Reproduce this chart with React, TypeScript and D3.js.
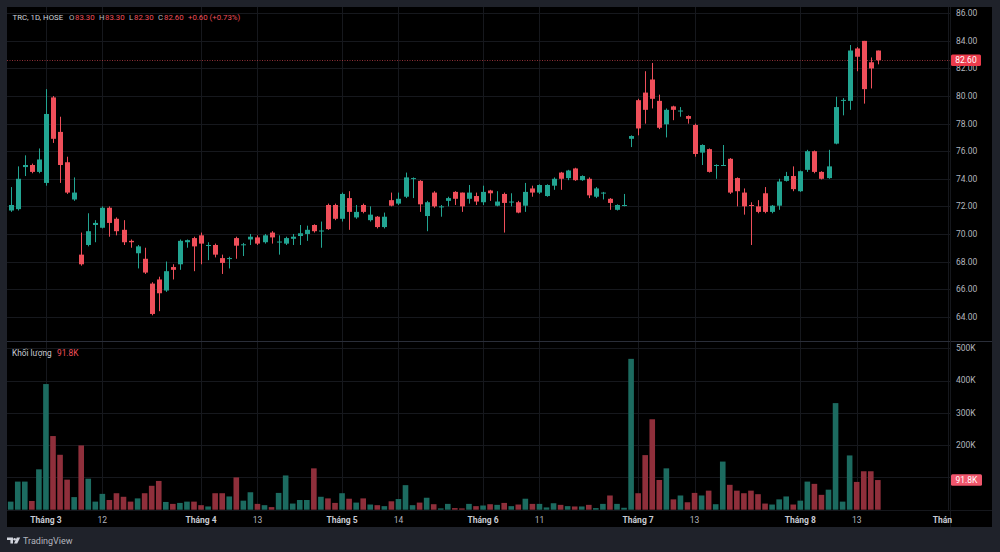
import React from "react";
import * as d3 from "d3";

// ---- data (TRC, 1D, HOSE) ----
const opens = [
  71.7, 71.8, 74.85, 75.0, 74.5, 73.7, 79.9, 77.4, 75.2, 72.5,
  68.5, 69.2, 70.65, 70.45, 71.9, 71.1, 70.3, 69.5, 68.6, 68.2,
  66.4, 66.7, 65.9, 67.6, 67.8, 69.4, 69.7, 69.9, 69.15, 69.2,
  68.25, 68.2, 69.7, 69.2, 69.6, 69.75, 69.4, 70.1, 69.4, 69.3,
  69.65, 69.85, 70.0, 70.65, 70.2, 72.1, 72.1, 71.1, 72.6, 71.2,
  72.1, 71.0, 71.25, 70.5, 72.45, 72.2, 72.7, 74.0, 73.85, 71.3,
  73.0, 71.95, 72.4, 73.05, 73.0, 72.55, 72.75, 72.3, 73.15, 72.05,
  72.9, 72.3, 72.3, 72.05, 73.3, 73.0, 72.75, 73.5, 74.45, 74.05,
  74.75, 73.9, 74.0, 72.7, 72.98, 72.55, 71.75, 72.05, 76.9, 79.7,
  80.25, 81.2, 79.65, 77.95, 79.25, 78.9, 78.55, 77.9, 75.9, 76.15,
  74.98, 74.98, 75.45, 74.05, 73.0, 72.1, 72.0, 72.95, 71.6, 72.05,
  73.85, 74.2, 73.1, 74.65, 76.0, 74.5, 74.05, 76.55, 79.7, 79.65,
  83.45, 84.0, 82.45, 83.3,
];
const highs = [
  73.4, 74.9, 75.7, 75.1, 76.2, 80.5, 80.0, 78.5, 75.6, 74.1,
  70.1, 71.5, 71.0, 72.0, 72.0, 71.2, 71.0, 69.6, 69.2, 69.0,
  66.5, 66.9, 68.0, 67.8, 69.6, 69.6, 69.8, 70.1, 69.4, 69.3,
  68.5, 68.35, 69.8, 69.35, 70.0, 69.9, 70.0, 70.2, 69.9, 69.8,
  70.0, 70.65, 70.6, 70.7, 70.9, 72.2, 72.2, 73.0, 73.1, 72.1,
  72.2, 72.0, 71.3, 71.55, 73.0, 73.0, 74.45, 74.1, 73.9, 72.4,
  73.1, 72.1, 72.7, 73.1, 73.0, 73.55, 73.0, 73.5, 73.2, 73.1,
  73.0, 72.95, 72.4, 73.7, 73.5, 73.6, 73.6, 74.1, 74.5, 74.65,
  74.8, 74.25, 74.1, 73.4, 73.05, 72.6, 72.15, 72.9, 77.15, 79.8,
  81.8, 82.4, 80.1, 79.1, 79.3, 79.2, 78.6, 78.0, 76.5, 76.2,
  75.05, 76.45, 75.5, 74.1, 73.3, 72.3, 72.45, 73.4, 72.1, 74.0,
  74.5, 74.9, 74.6, 76.1, 76.05, 74.55, 76.1, 79.95, 79.85, 83.7,
  83.55, 84.0, 82.8, 83.3,
];
const lows = [
  71.6, 71.7, 74.2, 74.4, 74.4, 73.5, 76.6, 73.7, 72.9, 72.4,
  67.7, 69.1, 69.4, 70.4, 69.8, 69.9, 69.2, 69.0, 67.5, 67.1,
  64.1, 64.4, 65.8, 66.7, 67.4, 69.0, 67.3, 67.8, 68.1, 68.3,
  67.1, 67.5, 68.2, 68.4, 69.2, 69.2, 69.3, 69.3, 68.5, 69.2,
  69.2, 69.2, 69.5, 70.1, 69.0, 70.3, 71.0, 70.9, 70.3, 71.1,
  71.5, 70.9, 70.4, 70.4, 72.0, 72.1, 72.6, 72.6, 71.6, 70.2,
  71.9, 71.25, 72.0, 72.1, 71.6, 72.2, 72.1, 72.1, 72.4, 72.0,
  70.1, 72.0, 71.5, 71.6, 72.7, 72.9, 72.7, 73.2, 73.2, 73.9,
  73.85, 73.85, 72.6, 72.6, 72.5, 71.75, 71.7, 72.0, 76.3, 77.15,
  78.0, 79.1, 77.6, 77.0, 78.25, 78.5, 78.0, 75.6, 75.0, 74.45,
  74.0, 74.95, 72.9, 72.0, 71.4, 69.2, 71.5, 71.5, 71.5, 71.75,
  73.8, 73.1, 73.05, 74.5, 74.4, 73.95, 74.0, 76.5, 78.6, 79.0,
  81.8, 79.45, 80.55, 82.3,
];
const closes = [
  72.1, 74.0, 75.0, 74.5, 75.4, 78.7, 76.9, 75.0, 73.0, 73.0,
  67.8, 70.2, 70.8, 71.9, 70.8, 70.2, 69.4, 69.4, 69.1, 67.2,
  64.2, 65.7, 67.3, 67.4, 69.5, 69.55, 69.1, 69.3, 69.2, 68.5,
  67.9, 68.25, 69.15, 69.25, 69.8, 69.3, 69.9, 69.75, 69.45, 69.7,
  69.8, 70.05, 70.3, 70.2, 70.25, 70.35, 71.1, 72.9, 71.6, 71.6,
  71.6, 71.4, 70.5, 71.25, 72.05, 72.55, 74.1, 74.05, 72.15, 72.3,
  72.0, 72.0, 72.6, 72.55, 72.0, 73.0, 72.35, 73.05, 72.95, 72.35,
  72.25, 72.35, 71.55, 73.05, 73.0, 73.55, 73.55, 74.0, 74.0, 74.6,
  73.9, 74.2, 72.8, 73.3, 73.0, 72.25, 72.1, 72.1, 77.1, 77.65,
  79.0, 79.8, 77.7, 79.0, 79.0, 78.95, 78.35, 75.8, 76.45, 74.5,
  75.0, 75.0, 73.0, 73.1, 72.0, 72.05, 71.6, 71.6, 72.05, 73.8,
  74.2, 73.25, 74.55, 76.0, 74.5, 74.0, 74.9, 79.2, 79.72, 83.3,
  82.85, 80.5, 82.0, 82.6,
];
// volume in thousands of shares
const volumesK = [
  25, 87, 87, 27, 125, 389, 228, 170, 93, 39,
  199, 96, 25, 49, 30, 51, 40, 25, 35, 51,
  74, 89, 24, 18, 21, 25, 25, 14, 10, 51,
  51, 41, 100, 28, 54, 18, 14, 8, 52, 106,
  19, 30, 30, 128, 40, 35, 21, 51, 34, 22,
  35, 16, 14, 11, 26, 33, 76, 14, 22, 37,
  17, 4, 18, 5, 4, 18, 11, 13, 17, 15,
  21, 11, 16, 34, 18, 18, 7, 20, 15, 11,
  10, 10, 15, 5, 18, 44, 18, 6, 467, 51,
  169, 280, 92, 128, 32, 44, 23, 52, 44, 59,
  17, 149, 77, 59, 51, 59, 48, 19, 16, 32,
  41, 16, 28, 87, 80, 46, 62, 330, 25, 168,
  86, 119, 119, 91.8,
];
const tickIndex = [5, 13, 27, 35, 47, 55, 67, 75, 89, 97, 112, 120, 133];
const tickLabels = ["Tháng 3", "12", "Tháng 4", "13", "Tháng 5", "14", "Tháng 6", "11", "Tháng 7", "13", "Tháng 8", "13", "Tháng 9"];
const priceTicks = [64, 66, 68, 70, 72, 74, 76, 78, 80, 82, 84, 86];
const volumeTicks = [100, 200, 300, 400, 500];
const volumeLabelTicks = [200, 300, 400, 500];

const UP = "#22a592";
const DOWN = "#ef4f5a";
const VUP = "#1c6b60";
const VDOWN = "#8f2f3b";
const FONT = "Roboto, 'Noto Sans', sans-serif";
const AXIS_TXT = "#b2b5be";
const GRID = "#16181d";

export default function App() {
  const W = 1000;
  const H = 552;
  const plotL = 7;
  const plotR = 950;
  const top = 7;
  const sepY = 341;
  const volBottom = 510;
  const bottom = 527;
  const right = 992;

  const n = closes.length;
  const x = d3.scaleLinear().domain([0, 133]).range([10.7, 10.7 + 133 * 7.05]);
  const yP = d3.scaleLinear().domain([64, 86]).range([316.7, 13.3]);
  const yV = d3.scaleLinear().domain([0, 500]).range([509.7, 348.2]);
  const bodyW = 5;
  const volW = 5.6;
  const fmt = d3.format(".2f");

  const last = n - 1;
  const prevClose = closes[last - 1];
  const chg = closes[last] - prevClose;
  const chgPct = (chg / prevClose) * 100;
  const lastVol = volumesK[last];

  const headerItems: { t: string; c: string; x: number }[] = [
    { t: "TRC, 1D, HOSE", c: "#d1d4dc", x: 12.5 },
    { t: "O", c: AXIS_TXT, x: 69 },
    { t: fmt(opens[last]), c: DOWN, x: 75 },
    { t: "H", c: AXIS_TXT, x: 99 },
    { t: fmt(highs[last]), c: DOWN, x: 105 },
    { t: "L", c: AXIS_TXT, x: 129 },
    { t: fmt(lows[last]), c: DOWN, x: 134 },
    { t: "C", c: AXIS_TXT, x: 158 },
    { t: fmt(closes[last]), c: DOWN, x: 164 },
    { t: `${chg >= 0 ? "+" : ""}${chg.toFixed(2)} (${chg >= 0 ? "+" : ""}${chgPct.toFixed(2)}%)`, c: DOWN, x: 188 },
  ];

  return (
    <svg
      width={W}
      height={H}
      style={{ position: "fixed", left: 0, top: 0, display: "block" }}
      fontFamily={FONT}
    >
      <defs>
        <clipPath id="timeClip">
          <rect x={plotL} y={volBottom} width={plotR - plotL + 2} height={bottom - volBottom} />
        </clipPath>
        <clipPath id="plotClip">
          <rect x={plotL} y={top} width={plotR - plotL} height={volBottom - top} />
        </clipPath>
      </defs>
      <rect x={0} y={0} width={W} height={H} fill="#1f222a" />
      <rect x={plotL} y={top} width={right - plotL} height={bottom - top} fill="#000" />

      {/* grid */}
      <g clipPath="url(#plotClip)">
        {priceTicks.map((p) => (
          <line key={"pg" + p} x1={plotL} x2={plotR} y1={Math.round(yP(p)) + 0.5} y2={Math.round(yP(p)) + 0.5} stroke={GRID} />
        ))}
        {volumeTicks.map((v) => (
          <line key={"vg" + v} x1={plotL} x2={plotR} y1={Math.round(yV(v)) + 0.5} y2={Math.round(yV(v)) + 0.5} stroke={GRID} />
        ))}
        {tickIndex.map((t, i) => (
          <line key={"xg" + i} x1={Math.round(x(t)) + 0.5} x2={Math.round(x(t)) + 0.5} y1={top} y2={volBottom} stroke={GRID} />
        ))}
      </g>

      {/* pane separators */}
      <line x1={plotL} x2={right} y1={sepY + 0.5} y2={sepY + 0.5} stroke="#2a2e39" />
      <line x1={plotL} x2={right} y1={volBottom + 0.5} y2={volBottom + 0.5} stroke="#15171c" />
      <line x1={plotR + 0.5} x2={plotR + 0.5} y1={top} y2={bottom} stroke="#15171c" />

      {/* volume bars */}
      <g>
        {volumesK.map((v, i) => {
          const up = closes[i] >= opens[i];
          const y0 = yV(v);
          return (
            <rect
              key={"v" + i}
              x={x(i) - volW / 2}
              y={y0}
              width={volW}
              height={yV(0) - y0}
              fill={up ? VUP : VDOWN}
            />
          );
        })}
      </g>

      {/* last price line */}
      <line
        x1={plotL}
        x2={plotR}
        y1={Math.round(yP(closes[last])) + 0.5}
        y2={Math.round(yP(closes[last])) + 0.5}
        stroke={DOWN}
        strokeOpacity={0.6}
        strokeDasharray="1 1.5"
      />

      {/* candles */}
      <g>
        {closes.map((c, i) => {
          const o = opens[i];
          const up = c >= o;
          const col = up ? UP : DOWN;
          const cx = Math.round(x(i)) + 0.5;
          const yTop = yP(Math.max(o, c));
          const yBot = yP(Math.min(o, c));
          return (
            <g key={"c" + i}>
              <line x1={cx} x2={cx} y1={yP(highs[i])} y2={yP(lows[i])} stroke={col} strokeWidth={1} />
              <rect x={cx - bodyW / 2} y={yTop} width={bodyW} height={Math.max(1, yBot - yTop)} fill={col} />
            </g>
          );
        })}
      </g>

      {/* price axis */}
      <g fontSize={8.5} fill={AXIS_TXT}>
        {priceTicks.map((p) => (
          <text key={"pt" + p} x={956} y={yP(p)} dy="0.35em">
            {fmt(p)}
          </text>
        ))}
        {volumeLabelTicks.map((v) => (
          <text key={"vt" + v} x={956} y={yV(v)} dy="0.35em">
            {v + "K"}
          </text>
        ))}
      </g>

      {/* last value boxes */}
      <rect x={951} y={yP(closes[last]) - 5.8} width={30} height={11.6} rx={1.5} fill="#ec3b4b" />
      <text x={966} y={yP(closes[last])} dy="0.35em" textAnchor="middle" fontSize={8.5} fill="#fff">
        {fmt(closes[last])}
      </text>
      <rect x={951} y={yV(lastVol) - 5.8} width={31} height={11.6} rx={1.5} fill="#f0566c" />
      <text x={966.5} y={yV(lastVol)} dy="0.35em" textAnchor="middle" fontSize={8.5} fill="#fff">
        {lastVol.toFixed(1) + "K"}
      </text>

      {/* time axis */}
      <g clipPath="url(#timeClip)" fontSize={8.5} fill={AXIS_TXT}>
        {tickIndex.map((t, i) => (
          <text
            key={"tt" + i}
            x={x(t)}
            y={520}
            dy="0.35em"
            textAnchor="middle"
            fontWeight={tickLabels[i].startsWith("Tháng") ? 700 : 400}
            fill={tickLabels[i].startsWith("Tháng") ? "#c8cbd3" : AXIS_TXT}
          >
            {tickLabels[i]}
          </text>
        ))}
      </g>

      {/* legend header */}
      <g fontSize={7.8}>
        {headerItems.map((h, i) => (
          <text key={"h" + i} x={h.x} y={17.3} dy="0.35em" fill={h.c}>
            {h.t}
          </text>
        ))}
      </g>
      <g fontSize={8.3}>
        <text x={12} y={353} dy="0.35em" fill="#c8cbd3">
          Khối lượng
        </text>
        <text x={57} y={353} dy="0.35em" fill={DOWN}>
          {lastVol.toFixed(1) + "K"}
        </text>
      </g>

      {/* footer logo */}
      <g fill="#d1d4dc">
        <path d="M7 537.5 h6 v6 h-2.6 v-3.4 h-3.4 z" />
        <circle cx={14.6} cy={539.3} r={1.3} />
        <path d="M16.8 537.5 h3.4 l-3 6 h-3.2 z" />
      </g>
      <text x={23} y={540.5} dy="0.35em" fontSize={9} fill="#b2b5be">
        TradingView
      </text>
    </svg>
  );
}
